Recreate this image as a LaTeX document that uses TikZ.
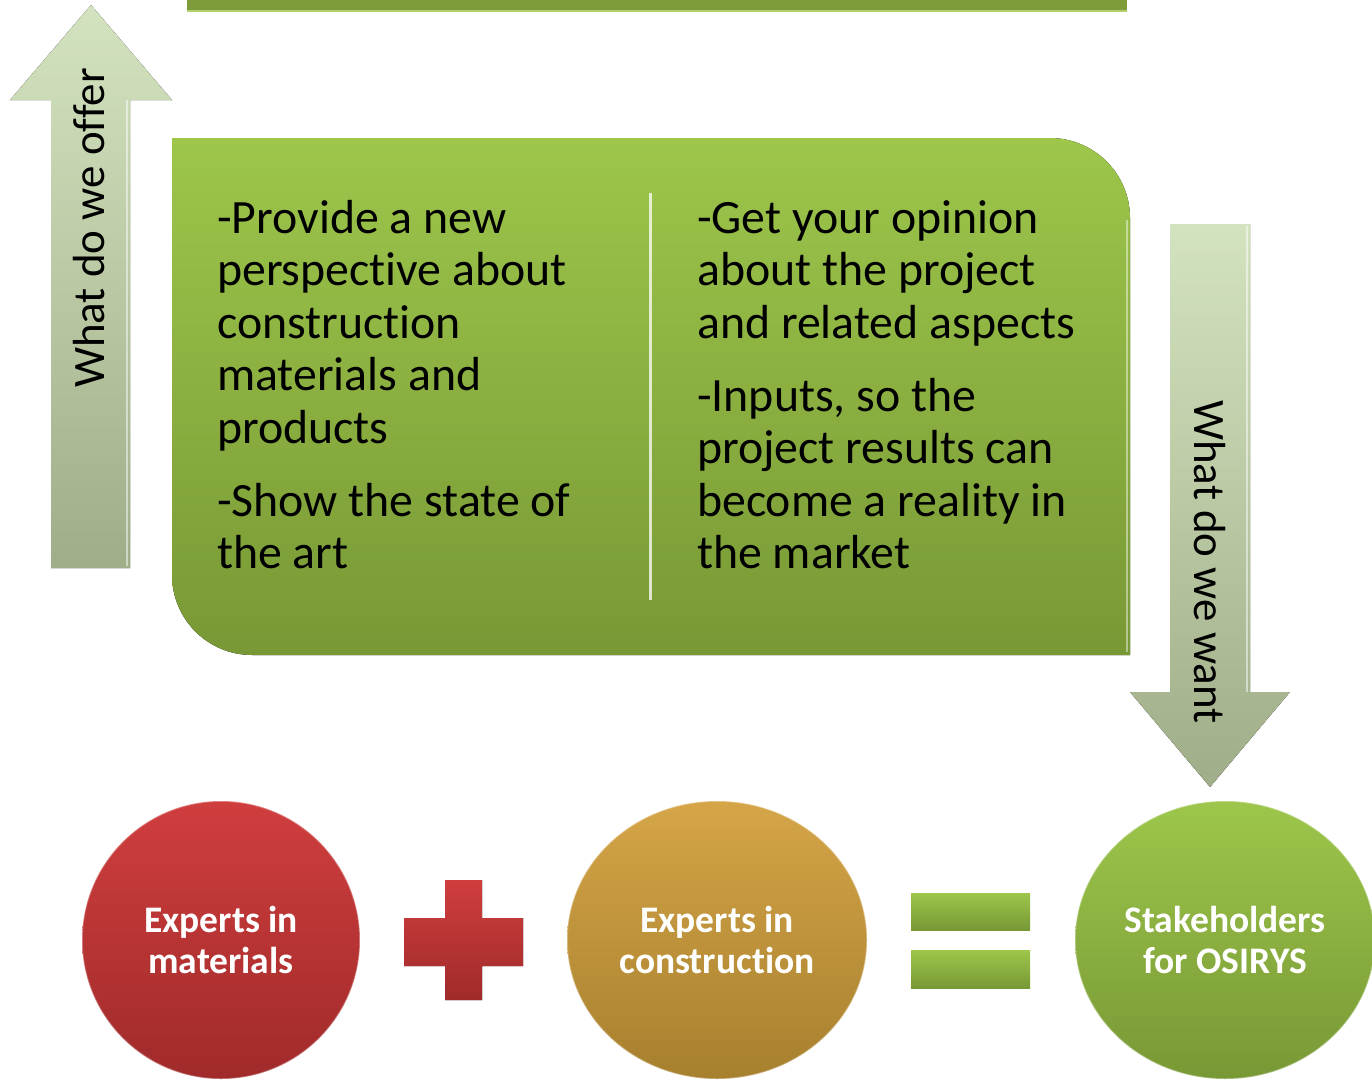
\documentclass[tikz,border=0pt]{standalone}
\usepackage{fontspec}
\setmainfont[Ligatures=NoCommon]{Carlito}
\usetikzlibrary{shapes.geometric}
\definecolor{gTop}{HTML}{9DC64B}
\definecolor{gBot}{HTML}{789835}
\definecolor{aTop}{HTML}{D4E3BF}
\definecolor{aBot}{HTML}{A0AD89}
\definecolor{rTop}{HTML}{D03E3E}
\definecolor{rBot}{HTML}{A02A2A}
\definecolor{oTop}{HTML}{D5A548}
\definecolor{oBot}{HTML}{A7802E}
\definecolor{barG}{HTML}{7E9D3A}
\begin{document}
\begin{tikzpicture}[x=1pt,y=-1pt,
  greenfill/.style={top color=gTop,bottom color=gBot},
  arrowfill/.style={top color=aTop,bottom color=aBot},
  redfill/.style={top color=rTop,bottom color=rBot},
  bodytext/.style={font=\fontsize{47.8}{52.5}\selectfont,align=left,inner sep=0pt,anchor=north west,text=black},
  arrowtext/.style={font=\fontsize{45}{50}\selectfont,inner sep=0pt,text=black},
  ball/.style={ellipse,inner sep=0pt,font=\bfseries\fontsize{37.5}{41}\selectfont,text=white,align=center,draw=white,draw opacity=0.35,line width=1.5pt}
]
\useasboundingbox (0,0) rectangle (1372,1079);

% top bar
\fill[barG] (187,0) rectangle (1127,12);
\draw[line width=2pt,color=gTop!80!white] (187,11) -- (1127,11);

% left arrow (up)
\fill[arrowfill] (51,568) -- (51,100) -- (10,100) -- (91,5) -- (172,100) -- (130,100) -- (130,568) -- cycle;
\draw[white,opacity=0.5,line width=2pt] (127,100) -- (127,566);
\node[arrowtext,rotate=90] (offer) at (89,228) {What do we offer};

% main box
\fill[greenfill] (172,138) -- (1050,138) arc[start angle=-90,end angle=0,radius=80] -- (1130,655) -- (252,655) arc[start angle=90,end angle=180,radius=80] -- cycle;
\draw[white,opacity=0.45,line width=2pt] (1127,220) -- (1127,652);
\coordinate (divtop) at (650,193);
\coordinate (divbot) at (650,600);
\draw[white,opacity=0.75,line width=3pt] (divtop) -- (divbot);

\node[bodytext] (leftcol) at (217,200) {-Provide a new\\perspective about\\construction\\materials and\\products\\[20.5pt]-Show the state of\\the art};
\node[bodytext] (rightcol) at (697,200) {-Get your opinion\\about the project\\and related aspects\\[20.5pt]-Inputs, so the\\project results can\\become a reality in\\the market};

% right arrow (down)
\fill[arrowfill] (1170,224) -- (1250,224) -- (1250,692) -- (1290,692) -- (1210,787) -- (1130,692) -- (1170,692) -- cycle;
\draw[white,opacity=0.5,line width=2pt] (1247,226) -- (1247,692);
\node[arrowtext,rotate=-90] (want) at (1210,562) {What do we want};

% circles
\node[ball,redfill,minimum width=278pt,minimum height=278pt] (mat) at (221,940) {Experts in\\materials};
\node[ball,top color=oTop,bottom color=oBot,minimum width=300pt,minimum height=278pt] (con) at (717,940) {Experts in\\construction};
\node[ball,greenfill,minimum width=300pt,minimum height=278pt] (stk) at (1225,940) {Stakeholders\\for OSIRYS};

% plus
\fill[redfill] (445,880) -- (482,880) -- (482,918) -- (523,918) -- (523,966) -- (482,966) -- (482,1000) -- (445,1000) -- (445,966) -- (404,966) -- (404,918) -- (445,918) -- cycle;
% equals
\fill[greenfill] (911,893) rectangle (1030,930);
\fill[greenfill] (911,950) rectangle (1030,988);
\end{tikzpicture}
\end{document}
